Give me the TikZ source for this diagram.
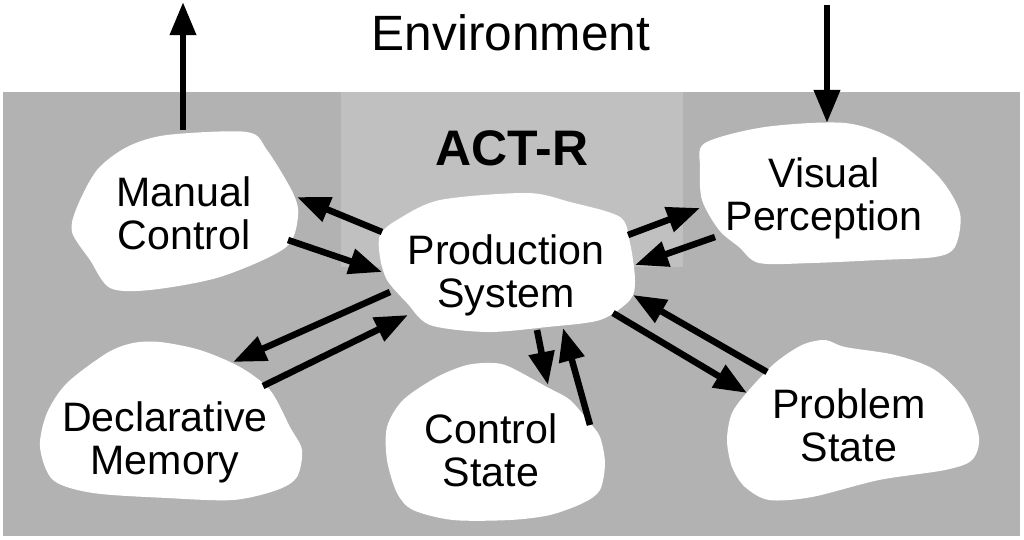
\documentclass[tikz,border=0pt]{standalone}
\usepackage{fontspec}
\setmainfont{Liberation Sans}
\usepackage{tikz}
\usetikzlibrary{arrows.meta, calc}
\definecolor{actgray}{RGB}{178, 178, 178}
\definecolor{corelight}{RGB}{192, 192, 192}
\tikzset{
  blob/.style={fill=white, draw=none},
  modlabel/.style={font=\fontsize{11.7}{12.3}\selectfont, align=center, inner sep=0pt},
  flow/.style={line width=1.85pt, -{Triangle[length=0.33cm, width=0.25cm]}}
}

\begin{document}
\begin{tikzpicture}[x=0.01cm, y=-0.01cm]
  \useasboundingbox (0,0) rectangle (1024,539);

  % Background regions
  \fill[white] (0,0) rectangle (1024,539);
  \fill[actgray] (3,92) rectangle (1020,536);
  \fill[corelight] (341,92) rectangle (683,267);

  % Titles
  \node[font=\fontsize{14.1}{16}\selectfont, anchor=base, inner sep=0pt] (env) at (511,50) {Environment};
  \node[font=\fontsize{14.2}{16}\selectfont\bfseries, anchor=base, inner sep=0pt] (actr) at (512,165) {ACT-R};

  % Module blobs
  \fill[blob] plot[smooth cycle] coordinates {(167,135) (247,132) (267,150) (293,193) (298,217) (285,248) (220,277) (150,290) (110,288) (90,260) (72,232) (77,207) (97,170) (127,147)};
  \fill[blob] plot[smooth cycle] coordinates {(380,235) (397,220) (440,200) (527,193) (570,202) (620,217) (630,243) (635,280) (630,300) (600,320) (547,327) (487,332) (430,325) (407,303) (387,280) (380,257)};
  \fill[blob] plot[smooth cycle] coordinates {(705,143) (765,127) (845,123) (895,140) (939,177) (960,213) (955,247) (935,257) (879,260) (812,263) (759,263) (739,247) (719,230) (702,200) (700,167)};
  \fill[blob] plot[smooth cycle] coordinates {(160,342) (200,350) (240,367) (270,390) (290,427) (302,450) (297,477) (277,490) (233,500) (167,498) (93,493) (53,480) (40,447) (47,413) (67,383) (107,353) (133,343)};
  \fill[blob] plot[smooth cycle] coordinates {(493,363) (510,367) (547,387) (570,400) (590,423) (600,437) (605,463) (600,490) (583,503) (550,515) (510,520) (453,520) (413,510) (397,493) (387,460) (387,427) (403,400) (437,377) (467,365)};
  \fill[blob] plot[smooth cycle] coordinates {(825,340) (845,347) (895,355) (935,370) (965,400) (979,437) (972,460) (945,470) (879,480) (812,497) (769,500) (745,487) (732,467) (727,440) (732,413) (749,390) (775,363) (802,345)};

  % Module labels
  \node[modlabel] (mc) at (184,213) {Manual\\Control};
  \node[modlabel] (ps) at (506,275) {Production\\System};
  \node[modlabel] (vp) at (824,198) {Visual\\Perception};
  \node[modlabel] (dm) at (165,442) {Declarative\\Memory};
  \node[modlabel] (cs) at (491,450) {Control\\State};
  \node[modlabel] (pst) at (849,425) {Problem\\State};

  % Environment in/out
  \coordinate (envout) at (183,2);
  \coordinate (envin) at (827,5);
  \draw[flow] ($(mc)+(-1,-83)$) -- (envout);
  \draw[flow] (envin) -- ($(vp)+(3,-75)$);

  % Module buffers
  \draw[flow] ($(ps)+(-124,-43)$) -- ($(mc)+(113,-16)$);
  \draw[flow] ($(mc)+(104,27)$) -- ($(ps)+(-124,-3)$);
  \draw[flow] ($(ps)+(122,-40)$) -- ($(vp)+(-124,10)$);
  \draw[flow] ($(vp)+(-109,39)$) -- ($(ps)+(129,-10)$);
  \draw[flow] ($(ps)+(-116,17)$) -- ($(dm)+(68,-80)$);
  \draw[flow] ($(dm)+(98,-56)$) -- ($(ps)+(-98,40)$);
  \draw[flow] ($(ps)+(31,55)$) -- ($(cs)+(57,-65)$);
  \draw[flow] ($(cs)+(99,-25)$) -- ($(ps)+(57,53)$);
  \draw[flow] ($(ps)+(107,38)$) -- ($(pst)+(-102,-32)$);
  \draw[flow] ($(pst)+(-82,-53)$) -- ($(ps)+(127,20)$);
\end{tikzpicture}
\end{document}
